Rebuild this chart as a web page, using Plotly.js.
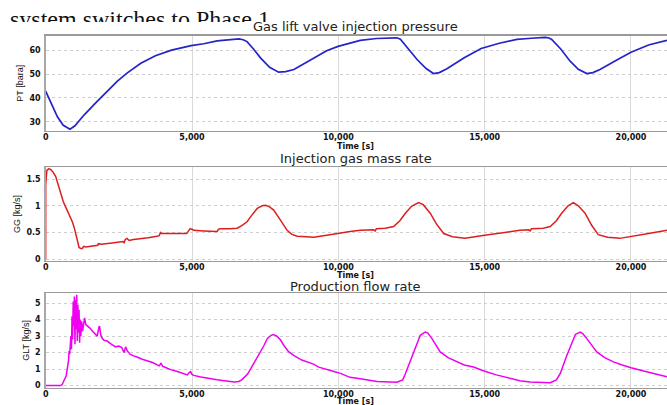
<!DOCTYPE html>
<html>
<head>
<meta charset="utf-8">
<script src="https://cdn.plot.ly/plotly-3.0.1.min.js"></script>
<style>
html,body{margin:0;padding:0;background:#fff;}
#wrap{position:relative;width:667px;height:405px;}
#chart{position:absolute;left:0;top:0;width:667px;height:405px;}
#caption{position:absolute;left:10px;top:0;width:400px;height:22px;overflow:hidden;pointer-events:none;}
#caption div{margin-top:7px;line-height:24px;font-family:"Liberation Serif","Times New Roman",serif;font-size:24px;color:#111;white-space:nowrap;}
</style>
</head>
<body>
<div id="wrap">
<div id="chart"></div>
<div id="caption"><div id="captionText"></div></div>
</div>
<script>
// ---------- data ----------
const xTickVals = [0, 5000, 10000, 15000, 20000];
const panelTitles = ["Gas lift valve injection pressure", "Injection gas mass rate", "Production flow rate"];
const yTitles = ["PT [bara]", "GG [kg/s]", "GLT [kg/s]"];
const xTitle = "Time [s]";
const captionText = "system switches to Phase 1";

const ptTime = [0,150,400,600,830,1000,1310,1700,2100,2450,2790,3250,3750,4300,4970,5400,5860,6300,6600,6750,6880,7100,7340,7650,7960,8200,8480,8900,9270,9600,9990,10400,10750,11300,11890,12000,12120,12400,12690,13000,13250,13450,13710,14300,14880,15500,16100,16600,17070,17200,17290,17600,17920,18200,18490,18700,18940,19500,20000,20600,21230];
const ptValues = [42.8,38.5,32.1,28.5,26.9,28.3,32.8,37.8,42.8,47,50.5,54.5,57.7,60,61.9,62.7,63.9,64.5,64.7,64.4,63.6,60.5,56.8,52.8,50.8,51.0,51.9,54.8,57.5,59.8,61.6,63,64.1,64.9,65.4,65.2,64.6,60.5,56.1,52.3,50.2,50.6,52.2,56.8,60.7,62.9,64.5,65.0,65.4,65.1,64.5,60.5,55.4,52.0,50.2,50.6,51.9,55.8,59.1,62.2,64.1];

const ggTime = [0,1,40,100,170,250,340,420,510,600,680,800,910,970,1020,1080,1140,1200,1250,1300,1370,1500,1700,1780,1800,1900,2200,2500,2640,2680,2720,2780,2850,3000,3240,3500,3800,3880,3920,3960,4300,4700,4820,4870,4930,5000,5060,5400,5800,5860,5900,5960,6300,6540,6700,6880,7050,7230,7400,7510,7650,7790,8000,8250,8400,8590,8900,9160,9600,10000,10400,10750,11200,11260,11300,11600,11890,12100,12290,12500,12740,12900,13140,13350,13600,13900,14330,15000,15600,16200,16500,16550,16600,17000,17240,17450,17630,17850,18030,18200,18430,18650,18880,19200,19620,20000,20600,21230];
const ggValues = [0,1.4,1.66,1.69,1.68,1.63,1.55,1.4,1.23,1.08,0.98,0.84,0.70,0.6,0.51,0.36,0.22,0.2,0.2,0.24,0.23,0.24,0.25,0.26,0.29,0.28,0.30,0.33,0.33,0.31,0.37,0.39,0.35,0.37,0.38,0.40,0.43,0.44,0.50,0.48,0.48,0.49,0.48,0.52,0.57,0.56,0.54,0.53,0.53,0.52,0.56,0.57,0.57,0.58,0.63,0.70,0.83,0.95,1.00,1.01,0.98,0.92,0.75,0.54,0.47,0.43,0.42,0.41,0.45,0.49,0.52,0.54,0.55,0.53,0.57,0.58,0.61,0.72,0.86,0.99,1.06,1.02,0.86,0.66,0.48,0.42,0.39,0.45,0.50,0.54,0.55,0.53,0.57,0.58,0.61,0.72,0.86,1.0,1.06,1.0,0.86,0.64,0.46,0.41,0.39,0.42,0.48,0.54];

const gltTime = [0,500,560,620,700,780,800,820,840,860,880,900,920,940,960,980,1000,1020,1040,1060,1080,1100,1120,1140,1160,1180,1200,1230,1260,1300,1330,1370,1450,1500,1600,1710,1760,1820,1840,1880,1920,1990,2100,2250,2390,2500,2600,2680,2730,2790,2880,3000,3100,3300,3470,3650,3880,3940,4000,4150,4270,4500,4840,4900,4950,5000,5060,5300,5600,5860,6100,6300,6450,6600,6700,6900,7100,7340,7450,7570,7700,7780,7900,8020,8150,8300,8500,8750,8930,9150,9330,9600,9850,10070,10400,10750,11320,12000,12200,12290,12500,12690,12800,12970,13050,13200,13480,13750,14050,14300,14620,15000,15400,15870,16200,16550,17240,17450,17580,17800,17980,18100,18260,18350,18490,18830,19100,19400,19700,20000,20500,21000,21230];
const gltValues = [0,0,0.05,0.3,0.6,1.5,2.1,1.9,2.4,3.0,2.2,4.2,2.8,5.1,3.6,5.4,2.5,5.2,3.4,5.5,2.7,4.9,3.2,4.6,2.6,4.0,3.0,3.9,3.3,4.0,4.1,3.7,3.6,3.5,3.3,3.05,3.0,3.55,3.6,3.1,2.9,2.75,2.7,2.5,2.35,2.4,2.3,2.0,2.35,2.1,1.9,1.8,1.75,1.6,1.52,1.4,1.2,1.35,1.17,1.05,0.97,0.85,0.65,0.78,0.85,0.68,0.62,0.52,0.42,0.35,0.3,0.25,0.22,0.25,0.35,0.7,1.3,2.0,2.4,2.85,3.05,3.1,3.0,2.78,2.4,2.06,1.8,1.55,1.45,1.3,1.12,1.0,0.85,0.74,0.5,0.42,0.25,0.2,0.35,0.72,1.7,2.55,3.05,3.25,3.2,2.85,2.04,1.7,1.44,1.25,1.13,0.87,0.65,0.42,0.3,0.22,0.18,0.35,0.72,1.8,2.6,3.1,3.25,3.15,2.85,2.04,1.7,1.44,1.25,1.08,0.85,0.62,0.53];

document.getElementById("captionText").textContent = captionText;

// ---------- styling ----------
const tickFont = {family: "DejaVu Sans", size: 8, weight: "bold", color: "#111"};
const yTitleFont = {family: "Liberation Sans Narrow, Liberation Sans, sans-serif", size: 9, color: "#111"};
const panelTitleFont = {family: "DejaVu Sans", size: 13, color: "#222"};
const X_DOMAIN = [0.0685, 1];
const Y_DOMAINS = [[0.677, 0.912], [0.356, 0.587], [0.043, 0.276]];
const TITLE_Y = [27, 158, 286];       // px from top, panel titles
const XTITLE_Y = [146, 275, 401.5];   // px from top, "Time [s]"
const H = 405;

const traces = [
  {x: ptTime, y: ptValues, xaxis: "x", yaxis: "y", mode: "lines", line: {color: "#2424c8", width: 1.7}, hoverinfo: "skip"},
  {x: ggTime, y: ggValues, xaxis: "x2", yaxis: "y2", mode: "lines", line: {color: "#dc1e1e", width: 1.5}, hoverinfo: "skip"},
  {x: gltTime, y: gltValues, xaxis: "x3", yaxis: "y3", mode: "lines", line: {color: "#f000f0", width: 1.5}, hoverinfo: "skip"}
];

function xAxis(anchor) {
  return {
    domain: X_DOMAIN, anchor: anchor, range: [0, 21230],
    tickvals: xTickVals, tickformat: ",", ticks: "", tickfont: tickFont,
    ticklabelstandoff: -2,
    showgrid: true, gridcolor: "#dadada", gridwidth: 1, griddash: "solid",
    showline: true, linecolor: "#9a9a9a", linewidth: 1.5, mirror: true,
    zeroline: false, automargin: false
  };
}
function yAxis(anchor, idx, range, tickvals, ticktext) {
  return {
    domain: Y_DOMAINS[idx], anchor: anchor, range: range,
    tickvals: tickvals, ticktext: ticktext, ticks: "", tickfont: tickFont,
    ticklabelstandoff: 2,
    showgrid: true, gridcolor: "#cfcfcf", gridwidth: 1, griddash: "dot",
    showline: true, linecolor: "#a8a8a8", linewidth: 1.5,
    zeroline: false, automargin: false,
    title: {text: yTitles[idx], font: yTitleFont, standoff: 4}
  };
}

const annotations = [];
for (let i = 0; i < 3; i++) {
  annotations.push({text: panelTitles[i], xref: "paper", yref: "paper", x: 0.533, y: 1 - TITLE_Y[i]/H,
    xanchor: "center", yanchor: "middle", showarrow: false, font: panelTitleFont});
  annotations.push({text: xTitle, xref: "paper", yref: "paper", x: 0.533, y: 1 - XTITLE_Y[i]/H,
    xanchor: "center", yanchor: "middle", showarrow: false, font: tickFont});
}

const layout = {
  width: 667, height: 405,
  margin: {l: 0, r: 0, t: 0, b: 0},
  paper_bgcolor: "rgba(0,0,0,0)", plot_bgcolor: "#fff",
  showlegend: false,
  xaxis: xAxis("y"), xaxis2: xAxis("y2"), xaxis3: xAxis("y3"),
  yaxis: yAxis("x", 0, [26.2, 66.1], [30, 40, 50, 60], ["30", "40", "50", "60"]),
  yaxis2: yAxis("x2", 1, [-0.03, 1.72], [0, 0.5, 1, 1.5], ["0", "0.5", "1", "1.5"]),
  yaxis3: yAxis("x3", 2, [-0.12, 5.6], [0, 1, 2, 3, 4, 5], ["0", "1", "2", "3", "4", "5"]),
  annotations: annotations
};

Plotly.newPlot("chart", traces, layout, {staticPlot: true, displayModeBar: false});
</script>
</body>
</html>
